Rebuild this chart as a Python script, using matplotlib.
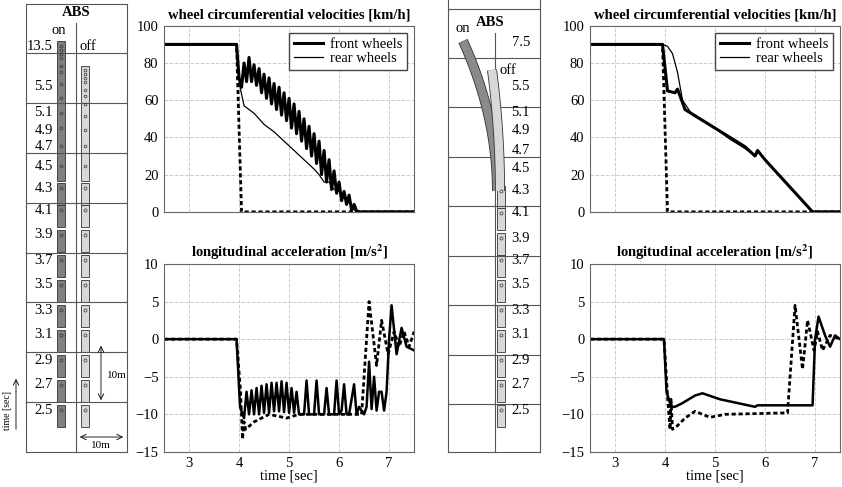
import numpy as np
import matplotlib
matplotlib.use("Agg")
import matplotlib.pyplot as plt

plt.rcParams['font.family'] = ['Liberation Serif', 'DejaVu Serif']
plt.rcParams['mathtext.fontset'] = 'stix'

# ---- ABS on (left) ----
t_dash_v = [2.5, 3.95, 4.05, 7.5]
v_dash = [90, 90, 0, 0]

t_front_on = [2.5, 3.95, 4.0, 4.05, 4.1, 4.15, 4.2, 4.25, 4.3, 4.35, 4.4, 4.45, 4.5, 4.55, 4.6, 4.65, 4.7,
              4.75, 4.8, 4.85, 4.9, 4.95, 5.0, 5.05, 5.1, 5.15, 5.2, 5.25, 5.3, 5.35, 5.4, 5.45, 5.5,
              5.55, 5.6, 5.65, 5.7, 5.75, 5.8, 5.85, 5.9, 5.95, 6.0, 6.05, 6.1, 6.15, 6.2, 6.25, 6.3,
              6.35, 6.4, 7.5]
v_front_on = [90, 90, 72, 67, 80, 70, 83, 70, 79, 68, 77, 64, 74, 61, 72, 58, 69,
              55, 67, 52, 64, 49, 61, 45, 58, 42, 54, 38, 50, 34, 46, 30, 42,
              26, 38, 20, 33, 16, 28, 12, 22, 10, 16, 6, 11, 4, 9, 1, 4,
              0.5, 0, 0]
t_rear_on = [2.5, 3.95, 4.02, 4.1, 4.3, 4.5, 4.7, 4.9, 5.1, 5.3, 5.5, 5.6, 5.7, 5.8, 5.9, 6.0, 6.1,
             6.2, 6.3, 6.35, 7.5]
v_rear_on = [90, 90, 67, 57, 53, 47, 43, 38, 33, 28, 23, 20, 16, 16, 12, 11, 8, 5, 1, 0, 0]

t_acc_on = [2.5, 3.95, 4.02, 4.1, 4.15, 4.2, 4.25, 4.3, 4.35, 4.4, 4.45, 4.5, 4.55, 4.6, 4.65, 4.7, 4.75,
            4.8, 4.85, 4.9, 4.95, 5.0, 5.05, 5.1, 5.15, 5.2, 5.3, 5.35, 5.4, 5.5, 5.55, 5.6, 5.7,
            5.75, 5.8, 5.9, 5.95, 6.0, 6.05, 6.1, 6.15, 6.2, 6.3, 6.35, 6.4, 6.5, 6.55, 6.6, 6.65,
            6.7, 6.75, 6.8, 6.85, 6.9, 6.95, 7.0, 7.05, 7.15, 7.25, 7.35, 7.5]
a_acc_on = [0, 0, -9, -10.5, -7, -10, -6.8, -10, -6.5, -10, -6.2, -9.8, -6, -9.8, -5.8, -9.6, -5.8,
            -9.6, -5.6, -9.7, -5.8, -9.8, -6.5, -9.8, -7, -10, -10, -5.5, -10, -10, -5.5, -10, -10,
            -6.5, -10, -10, -5.5, -10, -9.5, -6, -10, -10, -6, -10, -9, -10, -9, -3, -9.3,
            -5, -9.5, -7, -7, -9.5, -7, 0, 4.5, -2, 1.5, -1, -1.5]
t_acc_dash_on = [2.5, 3.95, 4.03, 4.07, 4.1, 4.13, 4.3, 4.6, 4.95, 5.2, 6.45, 6.6, 6.75, 6.85, 6.98, 7.1,
                 7.2, 7.3, 7.4, 7.5]
a_acc_dash_on = [0, 0, -7, -13.3, -11, -12, -11, -10, -10.5, -10, -10, 5, -3.5, 2.5, -2, 1, -1, 1, -1, 1]

# ---- ABS off (right) ----
t_front_off = [2.5, 3.95, 4.05, 4.2, 4.25, 4.4, 4.7, 5.0, 5.3, 5.6, 5.8, 5.85, 6.0, 6.95, 7.5]
v_front_off = [90, 90, 65, 64, 66, 55, 50, 45, 40, 35, 30, 33, 28, 0, 0]
t_rear_off = [2.5, 3.95, 4.05, 4.15, 4.25, 4.35, 4.55, 5.0, 5.3, 5.6, 5.8, 5.87, 6.0, 6.95, 7.5]
v_rear_off = [90, 90, 89, 85, 75, 60, 52, 45, 39, 34, 30, 32, 28, 0, 0]

t_acc_off = [2.5, 3.98, 4.03, 4.1, 4.15, 4.2, 4.35, 4.6, 4.75, 5.1, 5.8, 5.85, 6.95, 7.0, 7.07, 7.2,
             7.3, 7.4, 7.5]
a_acc_off = [0, 0, -7, -8.5, -9, -9, -8.5, -7.5, -7.2, -8, -9, -8.8, -8.8, 0, 3, 0.5, -1, 0.5, 0]
t_acc_dash_off = [2.5, 3.98, 4.05, 4.1, 4.12, 4.15, 4.25, 4.4, 4.6, 4.9, 5.2, 6.45, 6.6, 6.75, 6.85,
                  6.98, 7.05, 7.15, 7.3, 7.5]
a_acc_dash_off = [0, 0, -7.5, -12, -8, -12, -11.5, -10.5, -9.6, -10.4, -10, -9.8, 4.5, -4, 2.5, -1.5,
                  1, -1.5, 0.5, 0]

# ---- diagram labels ----
diag_labels = ['2.5', '2.7', '2.9', '3.1', '3.3', '3.5', '3.7', '3.9', '4.1', '4.3', '4.5', '4.7',
               '4.9', '5.1', '5.5']
diag_y_left = [410, 385, 360, 335, 310, 285, 260, 235, 210, 188, 166, 146, 130, 113, 87]
diag_y_right = [410, 385, 360, 335, 310, 285, 260, 238, 213, 191, 168, 150, 130, 113, 87]

W, H = 842, 487
fig = plt.figure(figsize=(W / 100, H / 100), dpi=100)

# overlay for diagrams in pixel coords
d = fig.add_axes([0, 0, 1, 1])
d.set_xlim(0, W)
d.set_ylim(H, 0)
d.axis('off')
gl = '#555555'
fs = 10.5


def car(x, y, w, h, fc):
    d.add_patch(plt.Rectangle((x, y), w, h, fc=fc, ec='#333333', lw=0.6))
    d.plot(x + w / 2, y + 5, 'o', ms=2.2, mfc='none', mec='#333333', mew=0.5)


# left diagram frame
for yy in [4, 53, 103, 153, 203, 253, 302, 352, 402, 452]:
    d.plot([26, 127], [yy, yy], color=gl, lw=0.8)
d.plot([26, 26], [4, 452], color=gl, lw=0.8)
d.plot([127, 127], [4, 452], color=gl, lw=0.8)
d.plot([76, 76], [23, 452], color=gl, lw=0.8)
d.text(76, 13, 'ABS', ha='center', va='center', fontsize=fs, fontweight='bold')
d.text(66, 30, 'on', ha='right', va='center', fontsize=fs)
d.text(80, 46, 'off', ha='left', va='center', fontsize=fs)
d.text(53, 46, '13.5', ha='right', va='center', fontsize=fs)
for lab, yy in zip(diag_labels, diag_y_left):
    d.text(53, yy, lab, ha='right', va='center', fontsize=fs)
# compressed upper parts
d.add_patch(plt.Rectangle((57, 41), 8, 140, fc='#808080', ec='#333333', lw=0.6))
d.add_patch(plt.Rectangle((81, 66), 8, 115, fc='#d8d8d8', ec='#333333', lw=0.6))
for yy in [46, 50, 54, 58, 66, 72, 84, 98, 113, 128, 146, 166]:
    d.plot(61, yy, 'o', ms=2, mfc='none', mec='#333333', mew=0.5)
for yy in [70, 74, 78, 82, 90, 96, 104, 116, 130, 146, 166]:
    d.plot(85, yy, 'o', ms=2, mfc='none', mec='#333333', mew=0.5)
for lab, yy in zip(diag_labels[:10], diag_y_left[:10]):
    car(57, yy - 5, 8, 22, '#808080')
    car(81, yy - 5, 8, 22, '#d8d8d8')
d.annotate('', xy=(101, 343), xytext=(101, 403), arrowprops=dict(arrowstyle='<->', lw=0.6))
d.text(107, 376, '10m', ha='left', va='center', fontsize=8)
d.annotate('', xy=(77, 437), xytext=(126, 437), arrowprops=dict(arrowstyle='<->', lw=0.6))
d.text(101, 446, '10m', ha='center', va='center', fontsize=8)
d.text(8, 410, 'time [sec]', rotation=90, ha='center', va='center', fontsize=7)
d.annotate('', xy=(16, 376), xytext=(16, 432), arrowprops=dict(arrowstyle='->', lw=0.6))

# right diagram frame
for yy in [9, 58, 107, 157, 206, 256, 305, 355, 404, 452]:
    d.plot([448, 540], [yy, yy], color=gl, lw=0.8)
d.plot([448, 448], [0, 452], color=gl, lw=0.8)
d.plot([540, 540], [0, 452], color=gl, lw=0.8)
d.plot([495, 495], [33, 452], color=gl, lw=0.8)
d.text(490, 22, 'ABS', ha='center', va='center', fontsize=fs, fontweight='bold')
d.text(456, 28, 'on', ha='left', va='center', fontsize=fs)
d.text(500, 70, 'off', ha='left', va='center', fontsize=fs)
d.text(530, 43, '7.5', ha='right', va='center', fontsize=fs)
for lab, yy in zip(diag_labels, diag_y_right):
    d.text(530, yy, lab, ha='right', va='center', fontsize=fs)
s = np.linspace(0, 1, 30)
xon = 463 + 34 * (1 - (1 - s) ** 2)
yon = 41 + 150 * s
d.plot(xon, yon, color='#333333', lw=7.2, solid_capstyle='butt')
d.plot(xon, yon, color='#8a8a8a', lw=6, solid_capstyle='butt')
xoff = 492 + 8 * (1 - (1 - s) ** 2)
yoff = 70 + 121 * s
d.plot(xoff, yoff, color='#333333', lw=7.2, solid_capstyle='butt')
d.plot(xoff, yoff, color='#d8d8d8', lw=6, solid_capstyle='butt')
for lab, yy in zip(diag_labels[:10], diag_y_right[:10]):
    car(497, yy - 5, 8, 22, '#d8d8d8')


def style(ax, ylim, yticks):
    ax.set_xlim(2.5, 7.5)
    ax.set_ylim(*ylim)
    ax.set_yticks(yticks)
    ax.set_xticks([3, 4, 5, 6, 7])
    ax.grid(True, ls='--', color='#cccccc', lw=0.7)
    ax.tick_params(labelsize=fs, length=0, pad=4)
    for sp in ax.spines.values():
        sp.set_color('#666666')


panels = [
    (0.1948, t_front_on, v_front_on, t_rear_on, v_rear_on, t_acc_on, a_acc_on, t_acc_dash_on, a_acc_dash_on),
    (0.7007, t_front_off, v_front_off, t_rear_off, v_rear_off, t_acc_off, a_acc_off, t_acc_dash_off, a_acc_dash_off),
]
for x0, tf, vf, tr, vr, ta, aa, td, ad in panels:
    ax1 = fig.add_axes([x0, 0.565, 0.297, 0.382])
    ax1.plot(t_dash_v, v_dash, 'k', ls=(0, (1.5, 1)), lw=2)
    ax1.plot(tr, vr, 'k', lw=0.9, label='rear wheels')
    ax1.plot(tf, vf, 'k', lw=2.2, label='front wheels')
    style(ax1, (0, 100), [0, 20, 40, 60, 80, 100])
    ax1.set_xticklabels([])
    h, l = ax1.get_legend_handles_labels()
    ax1.legend(h[::-1], l[::-1], loc='upper right', fontsize=fs, fancybox=False,
               edgecolor='#444444', handlelength=2, borderpad=0.3, labelspacing=0.1,
               handletextpad=0.5, framealpha=1)
    ax1.set_title('wheel circumferential velocities [km/h]', fontsize=10.5, fontweight='bold', pad=5)

    ax2 = fig.add_axes([x0, 0.072, 0.297, 0.386])
    ax2.plot(td, ad, 'k', ls=(0, (1.5, 1)), lw=2)
    ax2.plot(ta, aa, 'k', lw=1.8)
    style(ax2, (-15, 10), [-15, -10, -5, 0, 5, 10])
    ax2.set_yticklabels(['\u221215', '\u221210', '\u22125', '0', '5', '10'])
    ax2.set_title(r'longitudinal acceleration [m/s$^\mathbf{2}$]', fontsize=10.5, fontweight='bold', pad=5)
    ax2.set_xlabel('time [sec]', fontsize=fs, labelpad=-1)

fig.savefig('out.png', dpi=100)
